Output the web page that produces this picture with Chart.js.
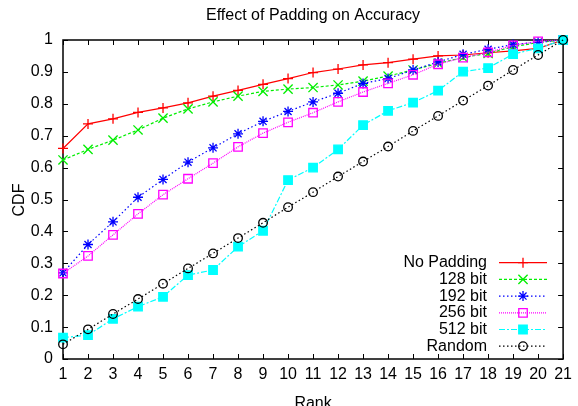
<!DOCTYPE html>
<html>
<head>
<meta charset="utf-8">
<script src="https://cdn.jsdelivr.net/npm/chart.js@4.4.1/dist/chart.umd.min.js"></script>
<style>
html,body{margin:0;padding:0;background:#fff;}
#wrap{width:578px;height:406px;}
</style>
</head>
<body>
<div id="wrap"><canvas id="cdfChart" width="578" height="406"></canvas></div>
<script>
// data
const ranks = ["1","2","3","4","5","6","7","8","9","10","11","12","13","14","15","16","17","18","19","20","21"];
const yTicks = [0,0.1,0.2,0.3,0.4,0.5,0.6,0.7,0.8,0.9,1];
const seriesNames = ["No Padding","128 bit","192 bit","256 bit","512 bit","Random"];

const noPadding = [0.660,0.737,0.753,0.773,0.787,0.803,0.824,0.842,0.861,0.879,0.898,0.909,0.922,0.929,0.940,0.950,0.953,0.960,0.966,0.974,1.0];
const bit128    = [0.624,0.657,0.686,0.718,0.755,0.784,0.806,0.824,0.839,0.846,0.851,0.859,0.871,0.887,0.906,0.927,0.945,0.958,0.979,0.992,1.0];
const bit192    = [0.270,0.359,0.430,0.507,0.563,0.617,0.662,0.706,0.745,0.776,0.806,0.833,0.864,0.879,0.906,0.931,0.955,0.971,0.986,0.993,1.0];
const bit256    = [0.268,0.323,0.389,0.455,0.515,0.565,0.614,0.665,0.708,0.742,0.772,0.806,0.837,0.864,0.891,0.924,0.945,0.961,0.983,0.996,1.0];
const bit512    = [0.067,0.075,0.126,0.164,0.195,0.263,0.279,0.352,0.402,0.561,0.600,0.657,0.733,0.778,0.804,0.841,0.901,0.912,0.956,0.974,1.0];
const random    = [0.046,0.093,0.141,0.188,0.236,0.284,0.331,0.379,0.427,0.476,0.523,0.572,0.619,0.666,0.715,0.762,0.810,0.857,0.906,0.953,1.0];

const FONT = '"Liberation Sans", Arial, sans-serif';

function series(i, data, color, style, radius, dash, fill){
    return {
        label: seriesNames[i],
        data: data,
        borderColor: color,
        backgroundColor: color,
        borderWidth: 1.2,
        borderDash: dash,
        pointStyle: style,
        pointRadius: radius,
        pointHoverRadius: radius,
        pointBorderWidth: 1.3,
        pointBorderColor: color,
        pointBackgroundColor: fill ? color : "rgba(0,0,0,0)",
        tension: 0,
        fill: false,
        clip: false,
        order: 6 - i
    };
}

const datasets = [
    series(0, noPadding, "#ff0000", "cross", 5, [], false),
    series(1, bit128, "#00ee00", "crossRot", 6.5, [3,2], false),
    series(2, bit192, "#0000ff", "star", 5, [1.5,2.5], false),
    series(3, bit256, "#ff00ff", "rect", 6, [1,1], false),
    series(4, bit512, "#00ffff", "rect", 6, [6,2,2,2], true),
    series(5, random, "#000000", "circle", 4.3, [1.5,2.5], false)
];

// frame, inward ticks, titles and the key, drawn gnuplot style
const decor = {
    id: "decor",
    beforeDatasetsDraw(chart){
        const ctx = chart.ctx, a = chart.chartArea;
        const xs = chart.scales.x, ys = chart.scales.y;
        ctx.save();
        ctx.strokeStyle = "#000";
        ctx.lineWidth = 1;
        ctx.beginPath();
        yTicks.forEach(v=>{
            let y = Math.round(ys.getPixelForValue(v)) + 0.5;
            ctx.moveTo(a.left, y); ctx.lineTo(a.left + 5, y);
            ctx.moveTo(a.right, y); ctx.lineTo(a.right - 5, y);
        });
        ranks.forEach((r,i)=>{
            let x = Math.round(xs.getPixelForValue(i)) + 0.5;
            ctx.moveTo(x, a.bottom); ctx.lineTo(x, a.bottom - 5);
            ctx.moveTo(x, a.top); ctx.lineTo(x, a.top + 5);
        });
        ctx.stroke();
        ctx.lineWidth = 1.5;
        ctx.strokeRect(a.left, a.top, a.right - a.left, a.bottom - a.top);
        ctx.restore();
    },
    afterDraw(chart){
        const ctx = chart.ctx, a = chart.chartArea;
        ctx.save();
        ctx.fillStyle = "#000";
        ctx.font = "16px " + FONT;
        ctx.textAlign = "center";
        ctx.textBaseline = "middle";
        ctx.fillText("Effect of Padding on Accuracy", (a.left + a.right) / 2, 16);
        ctx.fillText("Rank", (a.left + a.right) / 2, 404);
        ctx.save();
        ctx.translate(20, 200);
        ctx.rotate(-Math.PI / 2);
        ctx.fillText("CDF", 0, 0);
        ctx.restore();

        // key
        chart.data.datasets.forEach((ds,i)=>{
            let y = 262.7 + i * 16.7;
            ctx.fillStyle = "#000";
            ctx.textAlign = "right";
            ctx.fillText(ds.label, 487, y);
            ctx.strokeStyle = ds.borderColor;
            ctx.lineWidth = ds.borderWidth;
            ctx.setLineDash(ds.borderDash);
            ctx.beginPath();
            ctx.moveTo(499, y); ctx.lineTo(547, y);
            ctx.stroke();
            ctx.setLineDash([]);
            ctx.lineWidth = ds.pointBorderWidth;
            ctx.fillStyle = ds.pointBackgroundColor;
            Chart.helpers.drawPoint(ctx, {
                pointStyle: ds.pointStyle, rotation: 0,
                radius: ds.pointRadius, borderWidth: ds.pointBorderWidth
            }, 523, y);
        });
        ctx.restore();
    }
};

new Chart(document.getElementById("cdfChart"), {
    type: "line",
    data: { labels: ranks, datasets: datasets },
    options: {
        responsive: false,
        animation: false,
        devicePixelRatio: 1,
        layout: { padding: { top: 40, right: 12, left: 0, bottom: 0 } },
        plugins: { legend: { display: false }, title: { display: false }, tooltip: { enabled: false } },
        scales: {
            x: {
                type: "category",
                offset: false,
                grid: { display: false, drawTicks: false },
                border: { display: false },
                ticks: { color: "#000", font: { family: FONT, size: 16 }, padding: 6, autoSkip: false, maxRotation: 0 },
                afterFit: s => { s.height = 47; }
            },
            y: {
                min: 0,
                max: 1,
                grid: { display: false, drawTicks: false },
                border: { display: false },
                afterBuildTicks: s => { s.ticks = yTicks.map(v=>({value: v})); },
                ticks: {
                    color: "#000",
                    font: { family: FONT, size: 16 },
                    padding: 10,
                    callback: v => String(Math.round(v * 10) / 10)
                },
                afterFit: s => { s.width = 63; }
            }
        }
    },
    plugins: [decor]
});
</script>
</body>
</html>
